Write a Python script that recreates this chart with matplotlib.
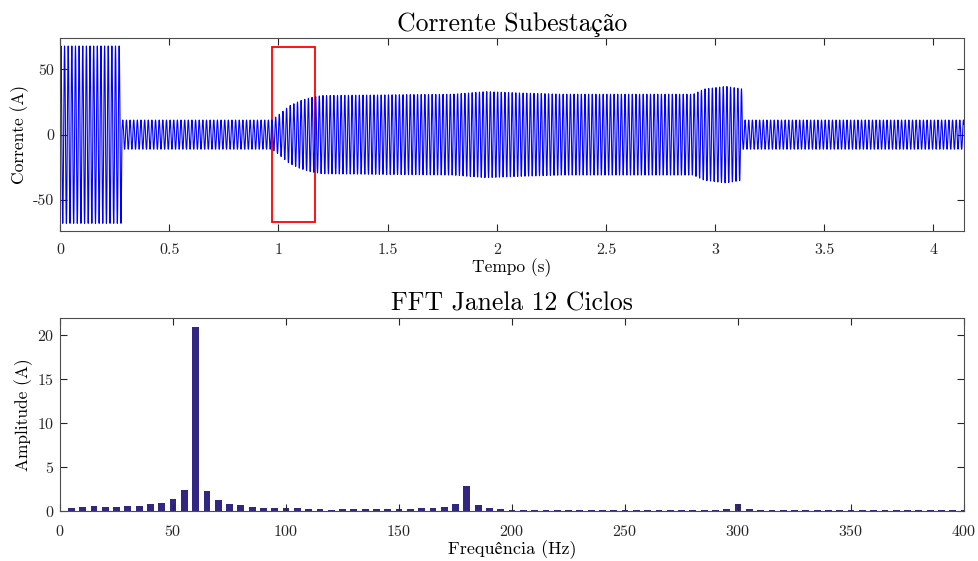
import numpy as np
import matplotlib
matplotlib.use('Agg')
import matplotlib.pyplot as plt
from matplotlib.patches import Rectangle

plt.rcParams['font.family'] = ['cmr10', 'STIXGeneral', 'DejaVu Serif']
plt.rcParams['mathtext.fontset'] = 'cm'
plt.rcParams['axes.unicode_minus'] = False
plt.rcParams['axes.formatter.use_mathtext'] = True

# envelope of the substation current
env_t = [0.0, 0.283, 0.284, 0.97, 1.0, 1.05, 1.10, 1.15, 1.2, 1.5, 1.8, 1.95, 2.1, 2.3, 2.6, 2.9, 2.95, 3.05, 3.125, 3.126, 4.14]
env_a = [68, 68, 11.2, 11.2, 15, 22, 26, 28.5, 30, 30.5, 31, 33, 32, 31, 31, 31, 35, 37, 35, 11.2, 11.2]
f0 = 60.0
t_end = 4.14

# window of the FFT (12 cycles)
win_t0, win_t1 = 0.97, 1.17
win_a = 67

# FFT amplitudes, 5 Hz bins
freqs = np.arange(5, 405, 5)
amps = [0.38, 0.46, 0.57, 0.50, 0.46, 0.53, 0.60, 0.80, 0.91, 1.37,
        2.40, 20.9, 2.32, 1.25, 0.80, 0.65, 0.50, 0.38, 0.34, 0.34,
        0.38, 0.27, 0.27, 0.08, 0.27, 0.27, 0.27, 0.27, 0.27, 0.27,
        0.27, 0.34, 0.38, 0.50, 0.80, 2.90, 0.65, 0.34, 0.23, 0.15,
        0.12, 0.11, 0.10, 0.10, 0.10, 0.10, 0.10, 0.10, 0.10, 0.10,
        0.10, 0.10, 0.10, 0.10, 0.11, 0.12, 0.13, 0.15, 0.23, 0.84,
        0.20, 0.17, 0.12, 0.11, 0.10, 0.09, 0.09, 0.09, 0.09, 0.09,
        0.09, 0.09, 0.09, 0.09, 0.09, 0.09, 0.09, 0.09, 0.09, 0.09]

fs = f0 * 32
t = np.arange(0, t_end, 1 / fs)
env = np.interp(t, env_t, env_a)
i_sub = env * np.sin(2 * np.pi * f0 * t)

fig = plt.figure(figsize=(9.79, 5.61), dpi=100)
ax1 = fig.add_axes([0.0613, 0.588, 0.9234, 0.344])
ax2 = fig.add_axes([0.0613, 0.089, 0.9234, 0.345])

edge = '#4d4d4d'
for ax in (ax1, ax2):
    ax.tick_params(direction='in', top=True, right=True, labelsize=11.5, colors='#262626', length=5)
    ax.tick_params(axis='x', pad=9)
    ax.tick_params(axis='y', pad=4)
    for s in ax.spines.values():
        s.set_color(edge)
        s.set_linewidth(0.8)

ax1.plot(t, i_sub, color='#0000ff', lw=0.8)
ax1.add_patch(Rectangle((win_t0, -win_a), win_t1 - win_t0, 2 * win_a,
                        fill=False, edgecolor='#ff0000', lw=1.3))
ax1.set_xlim(0, t_end)
ax1.set_ylim(-74, 74)
ax1.set_xticks(np.arange(0, 4.01, 0.5))
ax1.set_xticklabels(['0', '0.5', '1', '1.5', '2', '2.5', '3', '3.5', '4'])
ax1.set_yticks([-50, 0, 50])
ax1.set_yticklabels(['-50', '0', '50'])
ax1.set_title('Corrente Subestação', fontsize=18.5, pad=5)
ax1.set_xlabel('Tempo (s)', fontsize=12.5, labelpad=1)
ax1.set_ylabel('Corrente (A)', fontsize=12.5, labelpad=3)

ax2.bar(freqs, amps, width=3, color='#312783')
ax2.set_xlim(0, 400)
ax2.set_ylim(0, 22)
ax2.set_xticks(np.arange(0, 401, 50))
ax2.set_yticks([0, 5, 10, 15, 20])
ax2.set_title('FFT Janela 12 Ciclos', fontsize=18.5, pad=5)
ax2.set_xlabel('Frequência (Hz)', fontsize=13, labelpad=1)
ax2.set_ylabel('Amplitude (A)', fontsize=12.5, labelpad=3)

fig.savefig('out.png', dpi=100)
